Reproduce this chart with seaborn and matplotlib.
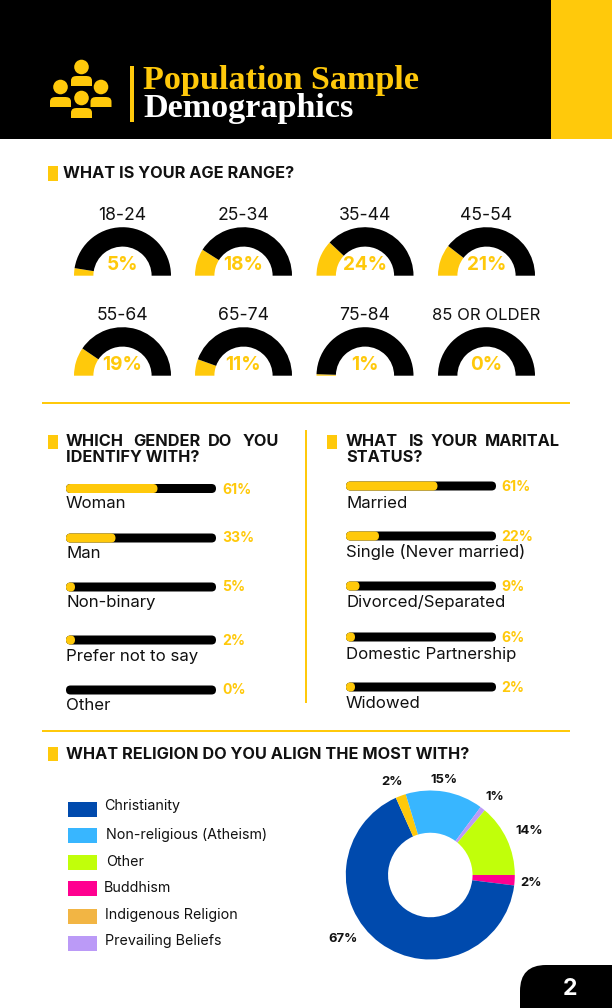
import matplotlib
matplotlib.use('Agg')
import matplotlib.pyplot as plt
import seaborn as sns
from matplotlib.patches import Rectangle, Circle, PathPatch, FancyBboxPatch
from matplotlib.path import Path

YELLOW = '#FFC90B'
W, H = 612, 1008

# ─── Data ─────────────────────────────────────────────────────────────────────
age_labels = ['18-24', '25-34', '35-44', '45-54', '55-64', '65-74', '75-84', '85 OR OLDER']
age_values = [5, 18, 24, 21, 19, 11, 1, 0]

gender_labels = ['Woman', 'Man', 'Non-binary', 'Prefer not to say', 'Other']
gender_values = [61, 33, 5, 2, 0]

marital_labels = ['Married', 'Single (Never married)', 'Divorced/Separated', 'Domestic Partnership', 'Widowed']
marital_values = [61, 22, 9, 6, 2]

religion_labels = ['Christianity', 'Non-religious (Atheism)', 'Other', 'Buddhism', 'Indigenous Religion', 'Prevailing Beliefs']
religion_values = [67, 15, 14, 2, 2, 1]
religion_colors = ['#004AAD', '#38B6FF', '#C1FF0A', '#FF0090', '#FFC90B', '#BB9AF7']
legend_colors = ['#004AAD', '#38B6FF', '#C1FF0A', '#FF0090', '#F2B544', '#BB9AF7']
# order of the slices clockwise from 3 o'clock
pie_order = [3, 0, 4, 1, 5, 2]

sns.set_theme(style='white')
plt.rcParams['font.family'] = ['Inter', 'DejaVu Sans']

fig = plt.figure(figsize=(W / 100, H / 100), dpi=100, facecolor='white')


def px_axes(x0, y0, x1, y1, **kw):
    """Axes placed with pixel coordinates measured from the top left."""
    return fig.add_axes([x0 / W, 1 - y1 / H, (x1 - x0) / W, (y1 - y0) / H], **kw)


page = px_axes(0, 0, W, H)
page.set_xlim(0, W)
page.set_ylim(H, 0)
page.axis('off')
top = px_axes(0, 0, W, H, zorder=10)
top.set_xlim(0, W)
top.set_ylim(H, 0)
top.axis('off')


def box(x0, y0, x1, y1, color=YELLOW):
    page.add_patch(Rectangle((x0, y0), x1 - x0, y1 - y0, fc=color, ec='none'))


def px_text(x, y, s, size_px, weight='normal', color='#111111', ha='left', **kw):
    return top.text(x, y + 1, s, fontsize=size_px * 0.72, fontweight=weight, color=color,
                    ha=ha, va='center', **kw)


def person(cx, head_y, body_y0, body_y1):
    page.add_patch(Circle((cx, head_y), 7.3, fc=YELLOW, ec='none'))
    half = 10.5
    verts = [(cx - half, body_y1), (cx - half, body_y0 + 5),
             (cx - half, body_y0 + 0.5), (cx - half + 3, body_y0), (cx - 4, body_y0),
             (cx + 4, body_y0),
             (cx + half - 3, body_y0), (cx + half, body_y0 + 0.5), (cx + half, body_y0 + 5),
             (cx + half, body_y1), (cx - half, body_y1)]
    codes = [Path.MOVETO, Path.LINETO, Path.CURVE4, Path.CURVE4, Path.CURVE4, Path.LINETO,
             Path.CURVE4, Path.CURVE4, Path.CURVE4, Path.LINETO, Path.CLOSEPOLY]
    page.add_patch(PathPatch(Path(verts, codes), fc=YELLOW, ec='none'))


# ─── Header ───────────────────────────────────────────────────────────────────
box(0, 0, 551, 139, 'black')
box(551, 0, 612, 139)
person(81.5, 67, 76, 86)
person(60.5, 87, 97, 107)
person(101, 87, 97, 107)
person(81.5, 98, 108, 118)
box(129.5, 66, 134, 122)
px_text(143, 79, 'Population Sample', 34.2, 'bold', YELLOW, family='Liberation Serif')
px_text(143, 108, 'Demographics', 34.2, 'bold', 'white', family='Liberation Serif')

# ─── Section titles and rules ─────────────────────────────────────────────────
HEAD = 16.3
box(48, 166, 58, 181)
px_text(63, 172.5, 'WHAT IS YOUR AGE RANGE?', HEAD, 'bold')
box(48, 435, 58, 449)
for x, word in zip([66, 133, 208, 243], ['WHICH', 'GENDER', 'DO', 'YOU']):
    px_text(x, 441, word, HEAD, 'bold')
px_text(66, 457, 'IDENTIFY WITH?', HEAD, 'bold')
box(327, 435, 337, 449)
for x, word in zip([346, 409, 431, 485], ['WHAT', 'IS', 'YOUR', 'MARITAL']):
    px_text(x, 441, word, HEAD, 'bold')
px_text(346, 457, 'STATUS?', HEAD, 'bold')
box(48, 747, 58, 761)
px_text(66, 753.5, 'WHAT RELIGION DO YOU ALIGN THE MOST WITH?', HEAD, 'bold')
box(42, 402, 570, 404)
box(42, 730, 570, 732)
box(305, 430, 307, 703)

# ─── Age gauges ───────────────────────────────────────────────────────────────
gauge_x = [122.5, 243.5, 365, 486.5]
gauge_base = [275.7, 375.7]
R = 48.5
for i, (label, value) in enumerate(zip(age_labels, age_values)):
    cx = gauge_x[i % 4]
    base = gauge_base[i // 4]
    ax = px_axes(cx - R, base - R, cx + R, base + R)
    ax.pie([value, 100 - value, 100], colors=[YELLOW, 'black', 'none'], startangle=180,
           counterclock=False, radius=1, wedgeprops={'width': 0.4, 'linewidth': 0})
    ax.set_xlim(-1, 1)
    ax.set_ylim(-1, 1)
    size = 16.7 if label == '85 OR OLDER' else 17.6
    px_text(cx, base - 61, label, size, ha='center')
    px_text(cx, base - 11.5, f'{value}%', 19, 'bold', YELLOW, ha='center')


# ─── Progress bars ────────────────────────────────────────────────────────────
def pill_bar(x0, y, label, value):
    """Black track with a yellow fill, both with round ends, value in % of the track."""
    thick = 9
    length = 150
    ax = px_axes(x0, y - thick / 2, x0 + length, y + thick / 2)
    sns.barplot(x=[100], y=[label], color='black', saturation=1, width=1, ax=ax)
    if value > 0:
        sns.barplot(x=[value], y=[label], color=YELLOW, saturation=1, width=1, ax=ax)
    ax.set_xlim(0, 100)
    ax.set_ylim(-0.5, 0.5)
    ax.axis('off')
    # swap each bar for a pill of the same extent, a short bar becomes a dot
    cap = thick / length * 100
    for bar in list(ax.patches):
        pill = FancyBboxPatch((bar.get_x(), bar.get_y()), max(bar.get_width(), cap), bar.get_height(),
                              boxstyle=f'round,pad=0,rounding_size={cap / 2}', mutation_aspect=1 / cap,
                              fc=bar.get_facecolor(), ec='none', clip_on=False)
        bar.remove()
        ax.add_patch(pill)


gender_bar_y = [488.5, 538, 587, 640, 690]
gender_label_y = [503, 552, 602, 655, 704]
gender_pct_y = [489, 537, 586, 640, 689]
for label, value, by, ly, py in zip(gender_labels, gender_values, gender_bar_y, gender_label_y, gender_pct_y):
    pill_bar(66, by, label, value)
    px_text(66, ly, label, 16.8)
    px_text(222, py, f'{value}%', 14, 'bold', YELLOW)

marital_bar_y = [486, 536, 586, 637, 687]
marital_label_y = [502, 551, 602, 653, 702]
for label, value, by, ly in zip(marital_labels, marital_values, marital_bar_y, marital_label_y):
    pill_bar(346, by, label, value)
    px_text(346, ly, label, 16.8)
    px_text(501, by, f'{value}%', 14, 'bold', YELLOW)

# ─── Religion legend and donut ────────────────────────────────────────────────
swatch_y = [802, 828, 854.5, 881, 909, 936]
legend_text_x = [104, 106.5, 106, 104, 105, 105]
legend_text_y = [805, 833.5, 861, 887, 913.5, 940]
for label, color, sy, tx, ty in zip(religion_labels, legend_colors, swatch_y, legend_text_x, legend_text_y):
    box(68, sy, 97, sy + 15, color)
    px_text(tx, ty, label, 14.3)

DONUT_R = 84.5
ax = px_axes(430.3 - DONUT_R, 875 - DONUT_R, 430.3 + DONUT_R, 875 + DONUT_R)
ax.pie([religion_values[i] for i in pie_order], colors=[religion_colors[i] for i in pie_order],
       startangle=0, counterclock=False, radius=1, wedgeprops={'width': 0.5, 'linewidth': 0})
ax.set_xlim(-1, 1)
ax.set_ylim(-1, 1)

pie_label_xy = {0: (343, 938.5), 1: (444, 780), 2: (529, 831), 3: (531, 883), 4: (392, 782), 5: (495, 797)}
for i, (x, y) in pie_label_xy.items():
    px_text(x, y - 1, f'{religion_values[i]}%', 13, 'bold', ha='center')

# ─── Page tab ─────────────────────────────────────────────────────────────────
page.add_patch(FancyBboxPatch((520, 965), 140, 80, boxstyle='round,pad=0,rounding_size=26',
                              fc='black', ec='none'))
px_text(569.5, 988, '2', 23, 'bold', 'white', ha='center')

fig.savefig('out.png', dpi=100)
